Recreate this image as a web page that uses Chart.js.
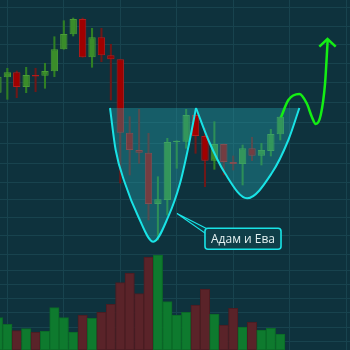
<!DOCTYPE html>
<html>
<head>
<meta charset="utf-8">
<script src="https://cdn.jsdelivr.net/npm/chart.js@4"></script>
<style>
  html, body { margin: 0; padding: 0; background: #0e323d; }
  #wrap { width: 350px; height: 350px; }
</style>
</head>
<body>
<div id="wrap"><canvas id="patternChart"></canvas></div>
<script>
// candles, index 0..30 (index 0 is cut by the left edge)
const opens  = [257.3, 272.7, 277.7, 263, 275, 274.3, 278.7, 300.7, 315.7, 331, 292.7, 312.7, 294.7, 290.7, 217.3, 200, 197.3, 146, 150, 208, 208.3, 235, 214, 189.3, 206, 188, 186, 201.7, 194.3, 199, 215.7]
const closes = [273.3, 277.7, 263, 275, 273.5, 279, 300.7, 316, 331, 292.7, 312.7, 294.7, 290.7, 217.3, 200, 197.3, 146, 150.7, 208, 209.3, 235, 214, 189.3, 206, 188, 186, 201.7, 194.3, 200, 216, 233.3]
const highs  = [280, 281.7, 279, 282.7, 281.7, 286.7, 313.3, 329.3, 332, 332, 321.7, 321.7, 305.7, 290.7, 233.3, 240.7, 216.7, 173.3, 211.7, 209.3, 240.7, 240, 221.7, 228.3, 206, 194, 205, 212.7, 206.7, 220.7, 233.3]
const lows   = [254, 250.7, 252.3, 257.3, 258.3, 261.7, 273.3, 300.7, 314, 292.7, 282.7, 288.3, 250, 167, 175, 186.7, 130, 110, 135, 181.7, 201.7, 196.7, 163.3, 180.7, 175, 180, 165, 189.3, 185, 194, 210]
const volumes = [32.3, 25.7, 19.3, 21.3, 17.7, 19, 42.3, 32.3, 18, 35, 31.7, 37.7, 45.7, 67.3, 77, 56.3, 93, 95, 48.3, 35, 37.7, 45, 61, 36, 25, 41.7, 23, 28, 20, 21.7, 16]

// Adam (narrow V) and Eve (round U), neckline at 242
const neckline = 242
const adamX = [11.91, 12.51, 13.5, 14.92, 16.51, 18.1, 19.35, 20.17, 21.05]
const adamY = [242, 200, 166.7, 133.3, 108.3, 133.3, 166.7, 200, 242]
const eveX = [21.05, 22.36, 24.13, 26.48, 29.09, 30.86, 32.03]
const eveY = [242, 210, 176.7, 151.7, 176.7, 210, 242]

// projected breakout path and arrow head
const pathX = [30.08, 30.86, 32.03, 32.81, 33.35, 33.77, 34.3, 34.76, 35.04]
const pathY = [232.7, 250, 256, 246.7, 233.3, 226, 235, 266.7, 310]
const headX = [34.15, 35.02, 35.89]
const headY = [303.3, 311, 303.3]

// callout
const labelText = 'Адам и Ева'
const labelTip = [19.03, 136.5]
const labelAt = [26.04, 111.3]

// grid positions
const gridX = [1, 7, 13, 19, 25, 31, 37]
const gridY = [343, 324, 305, 286, 267, 247.3, 227.3, 206.7, 186, 168, 150.5, 132.5, 114.5, 95.5, 79.3, 65.5, 51.3, 37.3, 22.7, 9]

const idx = opens.map((v, i) => i)
const up = idx.map(i => closes[i] >= opens[i])

const bodyData = idx.map(i => ({ x: i, y: [opens[i], closes[i]] }))
const wickData = idx.map(i => ({ x: i, y: [lows[i], highs[i]] }))
const volData = idx.map(i => ({ x: i, y: volumes[i] }))
const toPts = (xs, ys) => xs.map((v, i) => ({ x: v, y: ys[i] }))

const CYAN = '#19e3e6'
const FILL = 'rgba(40,170,180,0.36)'

const calloutPlugin = {
    id: 'callout',
    afterDatasetsDraw(chart) {
        const { ctx, scales } = chart
        const tx = scales.x.getPixelForValue(labelTip[0])
        const ty = scales.y.getPixelForValue(labelTip[1])
        const cx = scales.x.getPixelForValue(labelAt[0])
        const cy = scales.y.getPixelForValue(labelAt[1])
        ctx.save()
        ctx.font = '12px "Open Sans"'
        const w = ctx.measureText(labelText).width + 12
        const h = 21
        const left = cx - w / 2, top = cy - h / 2
        // pointer
        ctx.beginPath()
        ctx.moveTo(left + 3, top + 1)
        ctx.lineTo(tx, ty)
        ctx.lineTo(left + 3, top + 7)
        ctx.closePath()
        ctx.fillStyle = '#0f3a44'
        ctx.fill()
        ctx.strokeStyle = CYAN
        ctx.lineWidth = 1.2
        ctx.stroke()
        // box
        ctx.beginPath()
        ctx.roundRect(left, top, w, h, 3)
        ctx.fillStyle = '#103e48'
        ctx.fill()
        ctx.lineWidth = 1.6
        ctx.stroke()
        ctx.fillStyle = '#e4f2f2'
        ctx.textAlign = 'center'
        ctx.textBaseline = 'middle'
        ctx.fillText(labelText, cx, cy + 0.5)
        ctx.restore()
    }
}

new Chart('patternChart', {
    data: {
        datasets: [
            {
                type: 'line',
                data: toPts(headX, headY),
                borderColor: '#14ee14',
                borderWidth: 2.5,
                pointRadius: 0,
                tension: 0,
                order: 0,
            },
            {
                type: 'line',
                data: toPts(pathX, pathY),
                borderColor: '#14ee14',
                borderWidth: 2.5,
                pointRadius: 0,
                cubicInterpolationMode: 'monotone',
                order: 0,
            },
            {
                type: 'line',
                data: toPts(adamX, adamY),
                borderColor: CYAN,
                borderWidth: 2,
                pointRadius: 0,
                cubicInterpolationMode: 'monotone',
                fill: { value: neckline },
                backgroundColor: FILL,
                order: 1,
            },
            {
                type: 'line',
                data: toPts(eveX, eveY),
                borderColor: CYAN,
                borderWidth: 2,
                pointRadius: 0,
                cubicInterpolationMode: 'monotone',
                fill: { value: neckline },
                backgroundColor: FILL,
                order: 1,
            },
            {
                type: 'bar',
                data: bodyData,
                backgroundColor: up.map(u => u ? '#3a8c2a' : '#a00000'),
                borderColor: up.map(u => u ? '#4a9c36' : '#b41c1c'),
                borderWidth: 1,
                borderSkipped: false,
                barPercentage: 0.78,
                categoryPercentage: 1,
                grouped: false,
                order: 3,
            },
            {
                type: 'bar',
                data: wickData,
                backgroundColor: up.map(u => u ? '#2f8024' : '#6e1818'),
                barThickness: 1.4,
                grouped: false,
                order: 4,
            },
            {
                type: 'bar',
                data: volData,
                yAxisID: 'yv',
                backgroundColor: up.map(u => u ? '#0e7a2e' : '#5a2329'),
                borderColor: up.map(u => u ? '#0b6827' : '#4a1d22'),
                borderWidth: 1,
                borderSkipped: false,
                barPercentage: 1,
                categoryPercentage: 1,
                grouped: false,
                order: 5,
            },
        ]
    },
    options: {
        responsive: true,
        maintainAspectRatio: false,
        animation: false,
        layout: { padding: 0 },
        plugins: {
            legend: { display: false },
            tooltip: { enabled: false },
        },
        scales: {
            x: {
                type: 'linear',
                min: 0.22,
                max: 37.41,
                offset: false,
                afterBuildTicks: axis => { axis.ticks = gridX.map(v => ({ value: v })) },
                ticks: { display: false },
                grid: { color: '#18434e', drawTicks: false, offset: false },
                border: { display: false },
            },
            y: {
                min: 0,
                max: 350,
                afterBuildTicks: axis => { axis.ticks = gridY.map(v => ({ value: v })) },
                ticks: { display: false },
                grid: { color: '#18434e', drawTicks: false },
                border: { display: false },
            },
            yv: {
                display: false,
                min: 0,
                max: 350,
            },
        }
    },
    plugins: [calloutPlugin]
})
</script>
</body>
</html>
